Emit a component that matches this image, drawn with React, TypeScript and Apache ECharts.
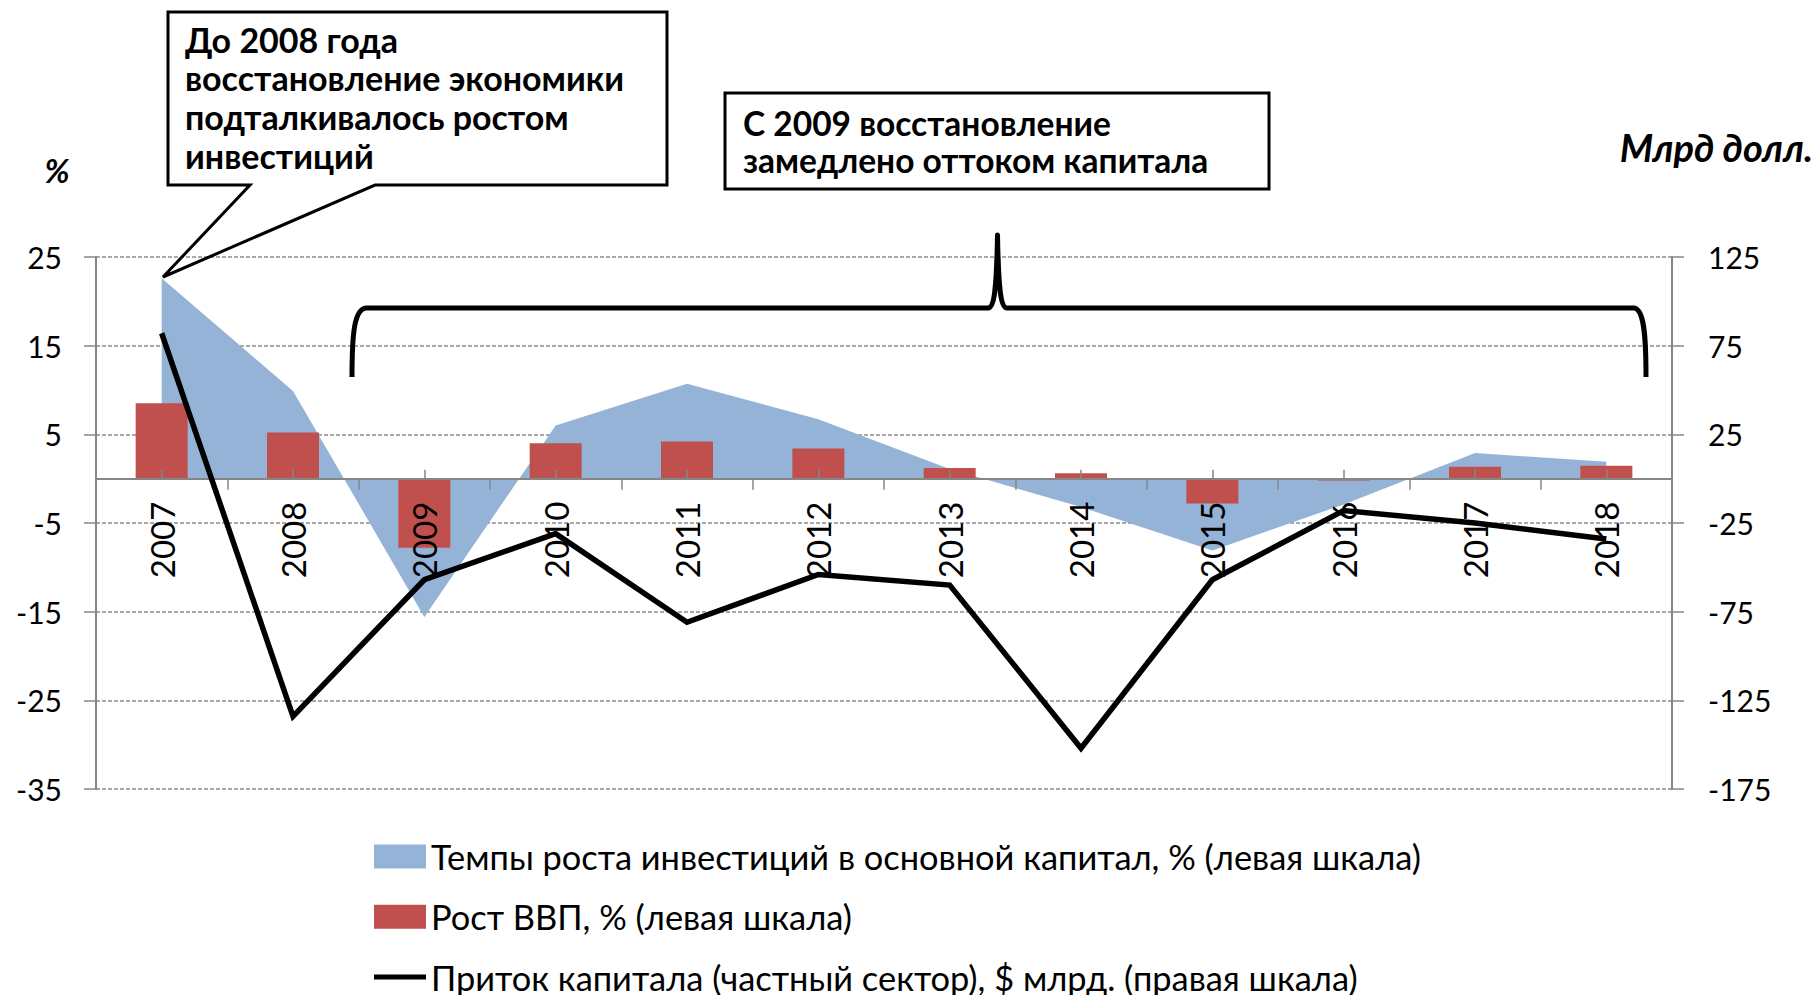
import React, { useEffect, useRef } from "react";
import * as echarts from "echarts";

// ---- data ----
const years = ["2007", "2008", "2009", "2010", "2011", "2012", "2013", "2014", "2015", "2016", "2017", "2018"];
const investGrowth = [22.6, 9.9, -15.6, 6.0, 10.7, 6.7, 1.1, -3.2, -8.1, -2.9, 2.9, 1.9];
const gdpGrowth = [8.5, 5.2, -7.8, 4.0, 4.2, 3.4, 1.2, 0.6, -2.8, -0.2, 1.35, 1.45];
const capitalInflow = [82, -134, -57, -31, -81, -54, -60, -152, -57, -18, -25, -34];

const leftAxisRange = [-35, 25];
const leftAxisStep = 10;
const rightAxisRange = [-175, 125];
const rightAxisStep = 50;

const seriesNames = [
  "Темпы роста инвестиций в основной капитал, % (левая шкала)",
  "Рост ВВП, % (левая шкала)",
  "Приток капитала (частный сектор), $ млрд. (правая шкала)",
];
const seriesColors = ["#95B3D7", "#C0504D", "#000000"];

const leftUnit = "%";
const rightUnit = "Млрд долл.";
const callout1Lines = ["До 2008 года", "восстановление экономики", "подталкивалось ростом", "инвестиций"];
const callout2Lines = ["С 2009 восстановление", "замедлено оттоком капитала"];

// ---- brace shape ----
const braceD =
  "M352,377 C352,335 354,309 366,308 L988,308 C994,308 996.5,292 997.5,235 C998.5,292 1001,308 1007,308 L1634,308 C1644,309 1646,335 1646,377";
echarts.graphic.registerShape("brace", echarts.graphic.extendPath(braceD, {}));

const FONT = "Lato, 'Open Sans', sans-serif";
const AXIS_GRAY = "#868686";

// layout
const GRID_LEFT = 96;
const GRID_RIGHT = 145;
const GRID_TOP = 257;
const GRID_BOTTOM = 206;
const PLOT_H = 995 - GRID_TOP - GRID_BOTTOM;
const ZERO_Y = GRID_TOP + (PLOT_H * leftAxisRange[1]) / (leftAxisRange[1] - leftAxisRange[0]);

function legendFor(i: number, centerY: number, iconH: number) {
  return {
    orient: "horizontal",
    left: 374,
    top: centerY - 18,
    padding: 0,
    itemWidth: 52,
    itemHeight: iconH,
    selectedMode: false,
    textStyle: { fontFamily: FONT, fontSize: 34.4, color: "#000", lineHeight: 24 },
    data: [{ name: seriesNames[i], icon: "rect", itemStyle: { color: seriesColors[i], borderWidth: 0 } }],
  };
}

export default function App() {
  const ref = useRef<HTMLDivElement>(null);

  useEffect(() => {
    const chart = echarts.init(ref.current!, null, { renderer: "svg" });
    const option: any = {
      animation: false,
      backgroundColor: "#fff",
      grid: [
        { left: GRID_LEFT, right: GRID_RIGHT, top: GRID_TOP, bottom: GRID_BOTTOM, containLabel: false },
        { left: GRID_LEFT, right: GRID_RIGHT, top: GRID_TOP, bottom: 995 - ZERO_Y, containLabel: false },
      ],
      legend: [legendFor(0, 857.5, 24), legendFor(1, 917.8, 24), legendFor(2, 978, 5)],
      xAxis: [
        {
          type: "category",
          gridIndex: 0,
          data: years,
          boundaryGap: true,
          show: false,
        },
        {
          type: "category",
          gridIndex: 1,
          data: years,
          position: "bottom",
          boundaryGap: true,
          z: 3,
          axisLine: { show: true, onZero: false, lineStyle: { color: AXIS_GRAY, width: 2 } },
          axisTick: { show: true, inside: false, length: 11, alignWithLabel: false, lineStyle: { color: AXIS_GRAY, width: 1.5 } },
          axisLabel: { interval: 0, rotate: 90, margin: 23, fontFamily: FONT, fontSize: 33, color: "#000" },
          splitLine: { show: false },
        },
        {
          type: "category",
          gridIndex: 1,
          data: years,
          position: "bottom",
          boundaryGap: true,
          z: 3,
          axisLine: { show: false, onZero: false },
          axisTick: { show: true, inside: true, length: 9, alignWithLabel: true, interval: 0, lineStyle: { color: AXIS_GRAY, width: 1.5 } },
          axisLabel: { show: false },
          splitLine: { show: false },
        },
      ],
      yAxis: [
        {
          type: "value",
          gridIndex: 0,
          position: "left",
          min: leftAxisRange[0],
          max: leftAxisRange[1],
          interval: leftAxisStep,
          axisLine: { show: true, lineStyle: { color: AXIS_GRAY, width: 2 } },
          axisTick: { show: true, length: 12, lineStyle: { color: AXIS_GRAY, width: 1.5 } },
          axisLabel: { margin: 34, fontFamily: FONT, fontSize: 30, color: "#000" },
          splitLine: { show: true, lineStyle: { color: "#8c8c8c", width: 1.5, type: [4, 2] } },
        },
        {
          type: "value",
          gridIndex: 0,
          position: "right",
          min: rightAxisRange[0],
          max: rightAxisRange[1],
          interval: rightAxisStep,
          axisLine: { show: true, lineStyle: { color: AXIS_GRAY, width: 2 } },
          axisTick: { show: true, length: 12, lineStyle: { color: AXIS_GRAY, width: 1.5 } },
          axisLabel: { margin: 36, fontFamily: FONT, fontSize: 30, color: "#000" },
          splitLine: { show: false },
        },
        {
          type: "value",
          gridIndex: 1,
          min: 0,
          max: 1,
          show: false,
        },
      ],
      series: [
        {
          name: seriesNames[0],
          type: "line",
          data: investGrowth,
          xAxisIndex: 0,
          yAxisIndex: 0,
          symbol: "none",
          z: 1,
          color: seriesColors[0],
          itemStyle: { color: seriesColors[0] },
          lineStyle: { width: 0, opacity: 0 },
          areaStyle: { color: seriesColors[0], opacity: 1 },
        },
        {
          name: seriesNames[1],
          type: "bar",
          data: gdpGrowth,
          xAxisIndex: 0,
          yAxisIndex: 0,
          barWidth: 52,
          z: 2,
          itemStyle: { color: seriesColors[1] },
        },
        {
          name: seriesNames[2],
          type: "line",
          data: capitalInflow,
          xAxisIndex: 0,
          yAxisIndex: 1,
          symbol: "none",
          z: 5,
          color: seriesColors[2],
          lineStyle: { color: seriesColors[2], width: 5.5, join: "miter", miterLimit: 20 },
        },
      ],
      graphic: [
        {
          type: "polygon",
          z: 100,
          shape: {
            points: [
              [168, 12],
              [667, 12],
              [667, 185],
              [375, 185],
              [163, 277],
              [250, 185],
              [168, 185],
            ],
          },
          style: { fill: "none", stroke: "#000", lineWidth: 3, lineJoin: "miter" },
        },
        {
          type: "text",
          z: 101,
          x: 185,
          y: 20,
          style: {
            text: callout1Lines.join("\n"),
            fontFamily: FONT,
            fontWeight: "bold",
            fontSize: 34,
            lineHeight: 38.6,
            fill: "#000",
            align: "left",
            verticalAlign: "top",
          },
        },
        {
          type: "rect",
          z: 100,
          shape: { x: 725, y: 93, width: 544, height: 96 },
          style: { fill: "#fff", stroke: "#000", lineWidth: 3 },
        },
        {
          type: "text",
          z: 101,
          x: 743,
          y: 104,
          style: {
            text: callout2Lines.join("\n"),
            fontFamily: FONT,
            fontWeight: "bold",
            fontSize: 33.5,
            lineHeight: 37,
            fill: "#000",
            align: "left",
            verticalAlign: "top",
          },
        },
        {
          type: "text",
          z: 101,
          x: 57,
          y: 170,
          style: {
            text: leftUnit,
            fontFamily: FONT,
            fontWeight: "bold",
            fontStyle: "italic",
            fontSize: 33,
            fill: "#000",
            align: "center",
            verticalAlign: "middle",
          },
        },
        {
          type: "text",
          z: 101,
          x: 1813,
          y: 147,
          style: {
            text: rightUnit,
            fontFamily: FONT,
            fontWeight: "bold",
            fontStyle: "italic",
            fontSize: 38,
            fill: "#000",
            align: "right",
            verticalAlign: "middle",
          },
        },
        {
          type: "brace",
          z: 100,
          x: 0,
          y: 0,
          style: { fill: "none", stroke: "#000", lineWidth: 5, lineJoin: "round" },
        },
      ],
    };
    chart.setOption(option);
    return () => chart.dispose();
  }, []);

  return (
    <div
      ref={ref}
      style={{ position: "absolute", left: 0, top: 0, width: 1817, height: 995, background: "#fff" }}
    />
  );
}
